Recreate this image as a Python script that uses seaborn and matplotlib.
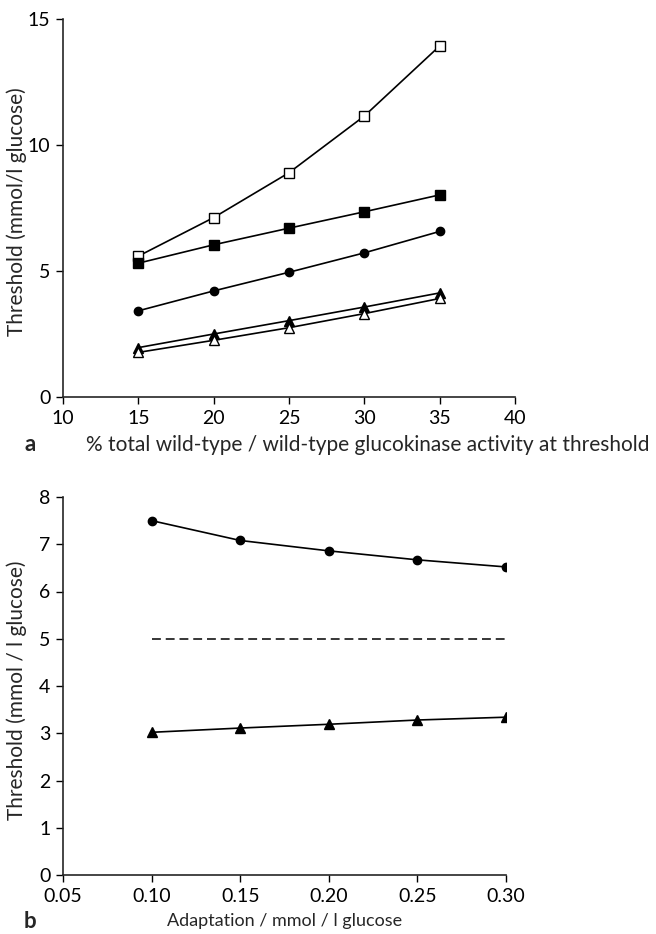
import numpy as np
import pandas as pd
import seaborn as sns
import matplotlib.pyplot as plt

# -----------------------------
# Data
# -----------------------------
# panel a: % total wild-type / wild-type glucokinase activity
activity = [15, 20, 25, 30, 35]
open_square = [5.59, 7.12, 8.90, 11.15, 13.93]
filled_square = [5.31, 6.04, 6.70, 7.35, 8.02]
filled_circle = [3.42, 4.21, 4.95, 5.72, 6.57]
filled_triangle = [1.96, 2.50, 3.03, 3.57, 4.13]
open_triangle = [1.77, 2.25, 2.75, 3.31, 3.91]

# panel b: adaptation
adaptation = [0.10, 0.15, 0.20, 0.25, 0.30]
b_circle = [7.50, 7.08, 6.86, 6.67, 6.52]
b_triangle = [3.02, 3.11, 3.19, 3.28, 3.34]
dashed_x = [0.10, 0.30]
dashed_y = [5, 5]

a_xticks = [10, 15, 20, 25, 30, 35, 40]
a_yticks = [0, 5, 10, 15]
b_xticks = [0.05, 0.10, 0.15, 0.20, 0.25, 0.30]
b_yticks = [0, 1, 2, 3, 4, 5, 6, 7, 8]

sns.set_style("ticks")
plt.rcParams['font.family'] = ['Lato', 'DejaVu Sans']

fig = plt.figure(figsize=(6.56, 9.34), dpi=100)
ax_a = fig.add_axes([63/656, 1-397/934, 452/656, 378/934])
ax_b = fig.add_axes([63/656, 1-875/934, 443/656, 378/934])

line_kw = dict(color='black', linewidth=1.2, markeredgecolor='black',
               markeredgewidth=1.0, legend=False)

# Panel a
sns.lineplot(x=activity, y=open_square, marker='s', markersize=6.5,
             markerfacecolor='white', ax=ax_a, **line_kw)
sns.lineplot(x=activity, y=filled_square, marker='s', markersize=6.5,
             markerfacecolor='black', ax=ax_a, **line_kw)
sns.lineplot(x=activity, y=filled_circle, marker='o', markersize=6,
             markerfacecolor='black', ax=ax_a, **line_kw)
sns.lineplot(x=activity, y=filled_triangle, marker='^', markersize=6.5,
             markerfacecolor='black', ax=ax_a, **line_kw)
sns.lineplot(x=activity, y=open_triangle, marker='^', markersize=6.5,
             markerfacecolor='white', ax=ax_a, **line_kw)

ax_a.set_xlim(10, 40)
ax_a.set_ylim(0, 15)
ax_a.set_xticks(a_xticks)
ax_a.set_yticks(a_yticks)
ax_a.set_xlabel('% total wild-type / wild-type glucokinase activity at threshold',
                fontsize=15)
ax_a.set_ylabel('Threshold (mmol/l glucose)', fontsize=15)
ax_a.xaxis.set_label_coords(0.675, -0.1)
ax_a.yaxis.set_label_coords(-0.08, 0.49)

# Panel b
sns.lineplot(x=adaptation, y=b_circle, marker='o', markersize=6,
             markerfacecolor='black', ax=ax_b, **line_kw)
sns.lineplot(x=adaptation, y=b_triangle, marker='^', markersize=6.5,
             markerfacecolor='black', ax=ax_b, **line_kw)
ax_b.plot(dashed_x, dashed_y, color='black', linewidth=1.1, dashes=(5.8, 3.2))

ax_b.set_xlim(0.05, 0.30)
ax_b.set_ylim(0, 8)
ax_b.set_xticks(b_xticks)
ax_b.set_xticklabels([f'{v:.2f}' for v in b_xticks])
ax_b.set_yticks(b_yticks)
ax_b.set_xlabel('Adaptation / mmol / l glucose', fontsize=13)
ax_b.set_ylabel('Threshold (mmol / l glucose)', fontsize=15)
ax_b.xaxis.set_label_coords(0.5, -0.1)
ax_b.yaxis.set_label_coords(-0.082, 0.49)

for ax in (ax_a, ax_b):
    sns.despine(ax=ax)
    ax.spines['left'].set_linewidth(1.2)
    ax.spines['bottom'].set_linewidth(1.2)
    ax.tick_params(axis='both', direction='out', length=5, width=1,
                   labelsize=14, colors='black', pad=4)

fig.text(30/656, 1-444/934, 'a', fontsize=16, fontweight='bold', ha='center', va='center')
fig.text(30/656, 1-921/934, 'b', fontsize=16, fontweight='bold', ha='center', va='center')

fig.savefig('out.png', dpi=100)
